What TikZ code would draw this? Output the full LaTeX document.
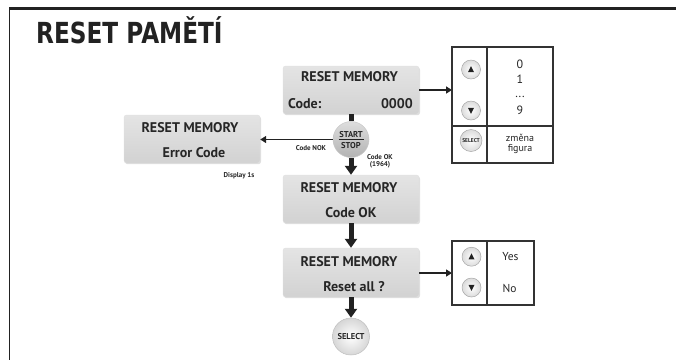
\documentclass[tikz,border=0pt]{standalone}
\usepackage{fontspec}
\setmainfont{PT Sans}
\newfontfamily\titlefont{DejaVu Sans}
\usetikzlibrary{arrows.meta,shadows,calc}
\definecolor{lcdtop}{HTML}{E4E4E4}
\definecolor{lcdbot}{HTML}{D2D2D2}
\definecolor{ink}{HTML}{222222}
\begin{document}
\begin{tikzpicture}[x=1pt,y=-1pt,
  lcd/.style={rounded corners=2.5pt, top color=lcdtop, bottom color=lcdbot, draw=black!12, line width=0.4pt,
    minimum width=136pt, minimum height=48pt, inner sep=0pt,
    drop shadow={shadow xshift=1pt,shadow yshift=-1.2pt,opacity=0.25}},
  lcdtxt/.style={font=\bfseries\fontsize{14}{14}\selectfont, text=black!85, inner sep=0pt, anchor=base},
  lbl/.style={font=\bfseries\fontsize{7}{7}\selectfont, text=black!85, inner sep=0pt, anchor=base},
  tbl/.style={draw=black!80, line width=1.2pt},
  tbltxt/.style={font=\fontsize{12}{12}\selectfont, text=black!85, inner sep=0pt, anchor=base},
  btn/.style={circle, minimum size=19pt, inner sep=0pt, inner color=white, outer color=black!14, draw=black!35, line width=0.5pt},
  bigarrow/.style={draw=ink, line width=5pt, -{Triangle[width=12pt,length=9pt]}},
  harrow/.style={draw=ink, line width=1.8pt, -{Triangle[width=7pt,length=6pt]}},
  tri/.style={fill=ink}
]
\useasboundingbox (0,0) rectangle (676,360);
% frame
\coordinate (fa) at (9,8.5);
\coordinate (fb) at (676,8.5);
\coordinate (fc) at (9.5,8);
\coordinate (fd) at (9.5,360);
\draw[ink, line width=3pt] (fa) -- (fb);
\draw[ink, line width=1.5pt] (fc) -- (fd);
% title
\node[anchor=base west, inner sep=0pt, text=ink, font=\titlefont\bfseries\fontsize{29}{29}\selectfont] (title) at (36,43) {\scalebox{0.8}[1]{RESET PAMĚTÍ}};

% LCD boxes
\node[lcd] (b1) at (351,90) {};
\node[lcd] (be) at (192,139) {};
\node[lcd] (b2) at (351,199) {};
\node[lcd, minimum height=49pt] (b3) at (351,272.5) {};

\node[lcdtxt] (b1t) at (349.5,81.7) {RESET MEMORY};
\node[lcdtxt, anchor=base west] (b1c) at (288,108.3) {Code:};
\node[lcdtxt, anchor=base east] (b1n) at (413,108.3) {0000};
\node[lcdtxt] (bet) at (190,132.7) {RESET MEMORY};
\node[lcdtxt] (bec) at (194,157.3) {Error Code};
\node[lcdtxt] (b2t) at (349,192.7) {RESET MEMORY};
\node[lcdtxt] (b2c) at (351,217.3) {Code OK};
\node[lcdtxt] (b3t) at (349,266) {RESET MEMORY};
\node[lcdtxt] (b3c) at (354,291.7) {Reset all ?};

% START/STOP button
\node[circle, minimum size=36pt, inner sep=0pt, top color=black!13, bottom color=black!30, draw=black!22, line width=0.5pt] (ss) at (351,139.5) {};
\node[lbl, font=\bfseries\fontsize{8.5}{8.5}\selectfont] (sst) at (351,137.7) {START};
\node[lbl, font=\bfseries\fontsize{8.5}{8.5}\selectfont] (ssp) at (351,148.3) {STOP};
\coordinate (sl1) at (338.5,139.9);
\coordinate (sl2) at (363.5,139.9);
\draw[ink, line width=1.1pt] (sl1) -- (sl2);

% SELECT button
\node[circle, minimum size=37pt, inner sep=0pt, inner color=white, outer color=black!16, draw=black!25, line width=0.5pt] (sel) at (351,336.5) {};
\node[lbl, font=\bfseries\fontsize{8.5}{8.5}\selectfont] (selt) at (351,339.5) {SELECT};

% connectors
\draw[ink, line width=5pt] (b1.south) -- (ss.north);
\draw[bigarrow] (ss.south) -- (b2.north);
\draw[bigarrow] (b2.south) -- (b3.north);
\draw[bigarrow] (b3.south) -- (sel.north);
\draw[harrow] (ss.west) -- (be.east |- ss.west);
\coordinate (t1in) at (452,90);
\coordinate (t2in) at (452,273);
\draw[harrow] (b1.east |- t1in) -- (t1in);
\draw[harrow] (b3.east |- t2in) -- (t2in);

% labels
\node[lbl] (nok) at (311,150) {Code NOK};
\node[lbl] (ok) at (380,159) {Code OK};
\node[lbl] (okn) at (380,166.5) {(1964)};
\node[lbl] (disp) at (239,177.5) {Display 1s};

% table 1
\coordinate (t1a) at (452,47);
\coordinate (t1b) at (553,163);
\coordinate (t1v1) at (487,47);
\coordinate (t1v2) at (487,163);
\coordinate (t1h1) at (452,126);
\coordinate (t1h2) at (553,126);
\draw[tbl] (t1a) rectangle (t1b);
\draw[tbl] (t1v1) -- (t1v2);
\draw[tbl] (t1h1) -- (t1h2);
\node[btn] (u1) at (471,69.5) {};
\node[btn] (d1) at (471,110.5) {};
\node[btn, minimum size=22pt] (s1) at (471,140.5) {};
\fill[tri] ($(u1)+(0,-3.3)$) -- ($(u1)+(3,2.7)$) -- ($(u1)+(-3,2.7)$) -- cycle;
\fill[tri] ($(d1)+(0,3.3)$) -- ($(d1)+(3,-2.7)$) -- ($(d1)+(-3,-2.7)$) -- cycle;
\node[lbl, font=\bfseries\fontsize{5.5}{5.5}\selectfont, anchor=center] (s1t) at (471,140.5) {SELECT};
\node[tbltxt] (n0) at (520,68.3) {0};
\node[tbltxt] (n1) at (520,83.7) {1};
\node[tbltxt] (nd) at (520,97.5) {...};
\node[tbltxt] (n9) at (520,114) {9};
\node[tbltxt, font=\fontsize{10}{10}\selectfont] (zm) at (520,141) {změna};
\node[tbltxt, font=\fontsize{10}{10}\selectfont] (fg) at (520,151.5) {figura};

% table 2
\coordinate (t2a) at (452,241);
\coordinate (t2b) at (534,305);
\coordinate (t2v1) at (487,241);
\coordinate (t2v2) at (487,305);
\draw[tbl] (t2a) rectangle (t2b);
\draw[tbl] (t2v1) -- (t2v2);
\node[btn] (u2) at (471.5,256.7) {};
\node[btn] (d2) at (471.5,287.5) {};
\fill[tri] ($(u2)+(0,-3.3)$) -- ($(u2)+(3,2.7)$) -- ($(u2)+(-3,2.7)$) -- cycle;
\fill[tri] ($(d2)+(0,3.3)$) -- ($(d2)+(3,-2.7)$) -- ($(d2)+(-3,-2.7)$) -- cycle;
\node[tbltxt, font=\fontsize{11.5}{11.5}\selectfont] (yes) at (510.5,260.7) {Yes};
\node[tbltxt, font=\fontsize{11.5}{11.5}\selectfont] (no) at (509.5,292) {No};
\end{tikzpicture}
\end{document}
